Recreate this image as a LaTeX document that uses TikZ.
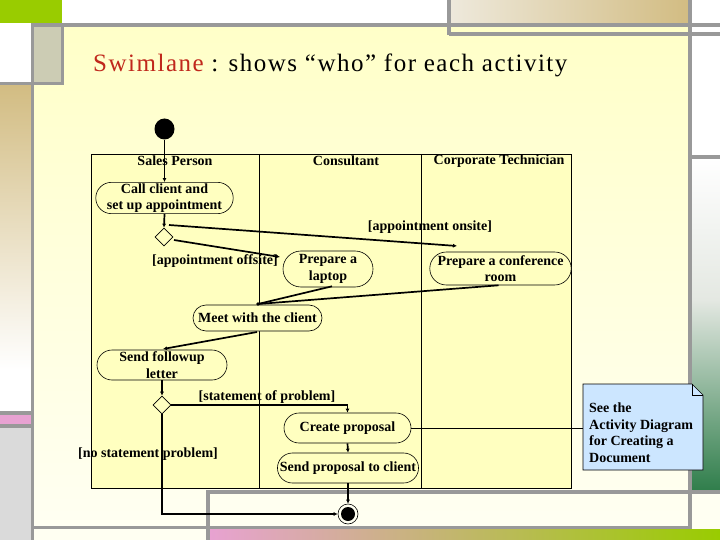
\documentclass[tikz,border=0pt]{standalone}
\usepackage{fontspec}
\setmainfont{Liberation Serif}
\usetikzlibrary{shapes.geometric,shapes.misc,arrows.meta,calc}
\definecolor{greenA}{HTML}{99CC00}
\definecolor{gbarc}{HTML}{999999}
\definecolor{tanR}{HTML}{D2BC82}
\definecolor{tanL}{HTML}{EEE9DC}
\definecolor{grayblk}{HTML}{CCCCB4}
\definecolor{pinkA}{HTML}{E8A2D2}
\definecolor{lgray}{HTML}{DADADA}
\definecolor{dkgreen}{HTML}{2E7D4A}
\definecolor{midgreen}{HTML}{E4E8E2}
\definecolor{creamT}{HTML}{FFFFC8}
\definecolor{creamB}{HTML}{FFFFF2}
\definecolor{lanefill}{HTML}{FFFFC0}
\definecolor{notefill}{HTML}{CCE6FF}
\definecolor{titlered}{HTML}{C0281C}
\newcommand\dfont{\fontsize{14}{16.6}\selectfont\bfseries}
\begin{document}
\begin{tikzpicture}[x=1pt,y=-1pt,
  gbar/.style={draw=gbarc,line width=3.5pt},
  act/.style={rounded rectangle,draw,line width=0.6pt,fill=lanefill,align=center,font=\dfont,inner sep=1pt},
  dec/.style={diamond,draw,line width=0.6pt,fill=lanefill,minimum width=18pt,minimum height=18pt,inner sep=0pt},
  flow/.style={line width=1.7pt,-{Latex[length=4pt,width=4pt]}},
  guard/.style={font=\dfont,inner sep=0pt},
  lanehead/.style={font=\dfont,inner sep=0pt}]
\useasboundingbox (0,0) rectangle (720,540);
% ---------- slide background ----------
\fill[white] (0,0) rectangle (720,540);
\shade[top color=creamT,bottom color=creamB] (33,25) rectangle (690,528);
\fill[creamB] (33,528) rectangle (720,540);
\fill[white] (690,0) rectangle (720,157);
\shade[top color=white,bottom color=midgreen] (690,157) rectangle (720,300);
\shade[top color=midgreen,bottom color=dkgreen] (690,299.5) rectangle (720,492);
\fill[creamB] (690,492) rectangle (720,528);
\shade[left color=tanL,right color=tanR] (449,0) rectangle (690,24);
\shade[left color=pinkA,right color=greenA] (208,529) rectangle (720,540);
\fill[greenA] (0,0) rectangle (62,23);
\fill[grayblk] (31,25) rectangle (63,83);
\shade[top color=tanR,bottom color=white] (0,84) rectangle (31,370);
\fill[pinkA] (0,414) rectangle (31,425);
\fill[lgray] (0,427) rectangle (31,540);
\draw[gbar] (31,25) -- (720,25);
\draw[gbar] (449,34) -- (720,34);
\draw[gbar] (449,0) -- (449,35.5);
\draw[gbar] (690,0) -- (690,529);
\draw[gbar] (32.5,25) -- (32.5,540);
\draw[gbar] (0,83.5) -- (64,83.5);
\draw[gbar] (62.5,25) -- (62.5,85);
\draw[gbar] (0,413) -- (31,413);
\draw[gbar] (0,426) -- (31,426);
\draw[gbar] (33,527.5) -- (690,527.5);
\draw[gbar] (208,540) -- (208,492) -- (720,492);
\draw[gbar] (690,157) -- (720,157);
% ---------- title ----------
\node[anchor=base west,inner sep=0pt] (title) at (93,72)
  {\fontsize{25}{29}\selectfont\addfontfeatures{LetterSpace=6}\textcolor{titlered}{Swimlane} : shows “who” for each activity};
% ---------- swimlanes ----------
\draw[line width=0.8pt,fill=lanefill] (91,154) rectangle (571,488);
\draw[line width=0.8pt] (259,154) -- (259,488);
\draw[line width=0.8pt] (421,154) -- (421,488);
\node[lanehead] (h1) at (175,161) {Sales Person};
\node[lanehead] (h2) at (346,161) {Consultant};
\node[lanehead] (h3) at (499,161) {Corporate Technician};
% ---------- nodes ----------
\node[ellipse,fill=black,minimum width=20pt,minimum height=21pt,inner sep=0pt] (init) at (164.5,129) {};
\node[act,minimum width=137pt,minimum height=28pt] (call) at (164.5,198) {Call client and\\set up appointment};
\node[dec] (d1) at (164,237) {};
\node[act,minimum width=92pt,minimum height=36pt] (laptop) at (328,269) {Prepare a\\laptop};
\node[act,minimum width=135pt,minimum height=33pt] (conf) at (500.5,268.5) {Prepare a conference\\room};
\node[act,minimum width=131pt,minimum height=26pt] (meet) at (257.5,318) {Meet with the client};
\node[act,minimum width=132pt,minimum height=30pt] (follow) at (162,365) {Send followup\\letter};
\node[dec] (d2) at (162,405) {};
\node[act,minimum width=129pt,minimum height=30pt] (create) at (347.5,428) {Create proposal};
\node[act,minimum width=140pt,minimum height=30pt] (sendp) at (348,468) {Send proposal to client};
\node[circle,draw,line width=0.6pt,minimum size=20pt,inner sep=0pt] (final) at (348,514) {};
\node[circle,fill=black,minimum size=14pt,inner sep=0pt] (finalin) at (348,514) {};
% note
\fill[notefill,draw=black,line width=0.6pt] (583,384) -- (692,384) -- (703,395) -- (703,470) -- (583,470) -- cycle;
\draw[line width=0.6pt] (692,384) -- (692,395) -- (703,395);
\node[anchor=north west,align=left,font=\dfont,inner sep=0pt] (note) at (589,402.5)
  {See the\\Activity Diagram\\for Creating a\\Document};
\coordinate (noteW) at (583,428);
% ---------- guards ----------
\node[guard] (g1) at (430,227) {[appointment onsite]};
\node[guard] (g2) at (215,261) {[appointment offsite]};
\node[guard] (g3) at (267,397) {[statement of problem]};
\node[guard] (g4) at (148,454) {[no statement problem]};
% ---------- flows ----------
\coordinate (d1a) at (169,225);
\coordinate (onsiteEnd) at (457,246);
\coordinate (d1b) at (174,240);
\coordinate (laptopIn) at (280,257);
\coordinate (join) at (258,304);
\coordinate (meetOut) at (257,332);
\coordinate (followIn) at (163,349);
\draw[flow] (init.south) -- (call.north);
\draw[flow] (call.south) -- (d1.north);
\draw[flow] (d1a) -- (onsiteEnd);
\draw[flow] (d1b) -- (laptopIn);
\draw[line width=1.7pt] ($(laptop.south)+(4,-1)$) -- (join);
\draw[line width=1.7pt] ($(conf.south)+(-2,0)$) -- (join);
\fill (join) circle (1.8pt);
\draw[flow] (meetOut) -- (followIn);
\draw[flow] (follow.south) -- (d2.north);
\draw[flow] (d2.east) -- (create.north |- d2.east) -- (create.north);
\draw[flow] (create.south) -- (sendp.north);
\draw[line width=1.9pt,-{Latex[length=4pt,width=4pt]}] (sendp.south) -- (final.north);
\draw[flow] (d2.south) -- (d2.south |- final.west) -- (final.west);
\draw[line width=0.6pt] (create.east) -- (noteW);
\end{tikzpicture}
\end{document}
